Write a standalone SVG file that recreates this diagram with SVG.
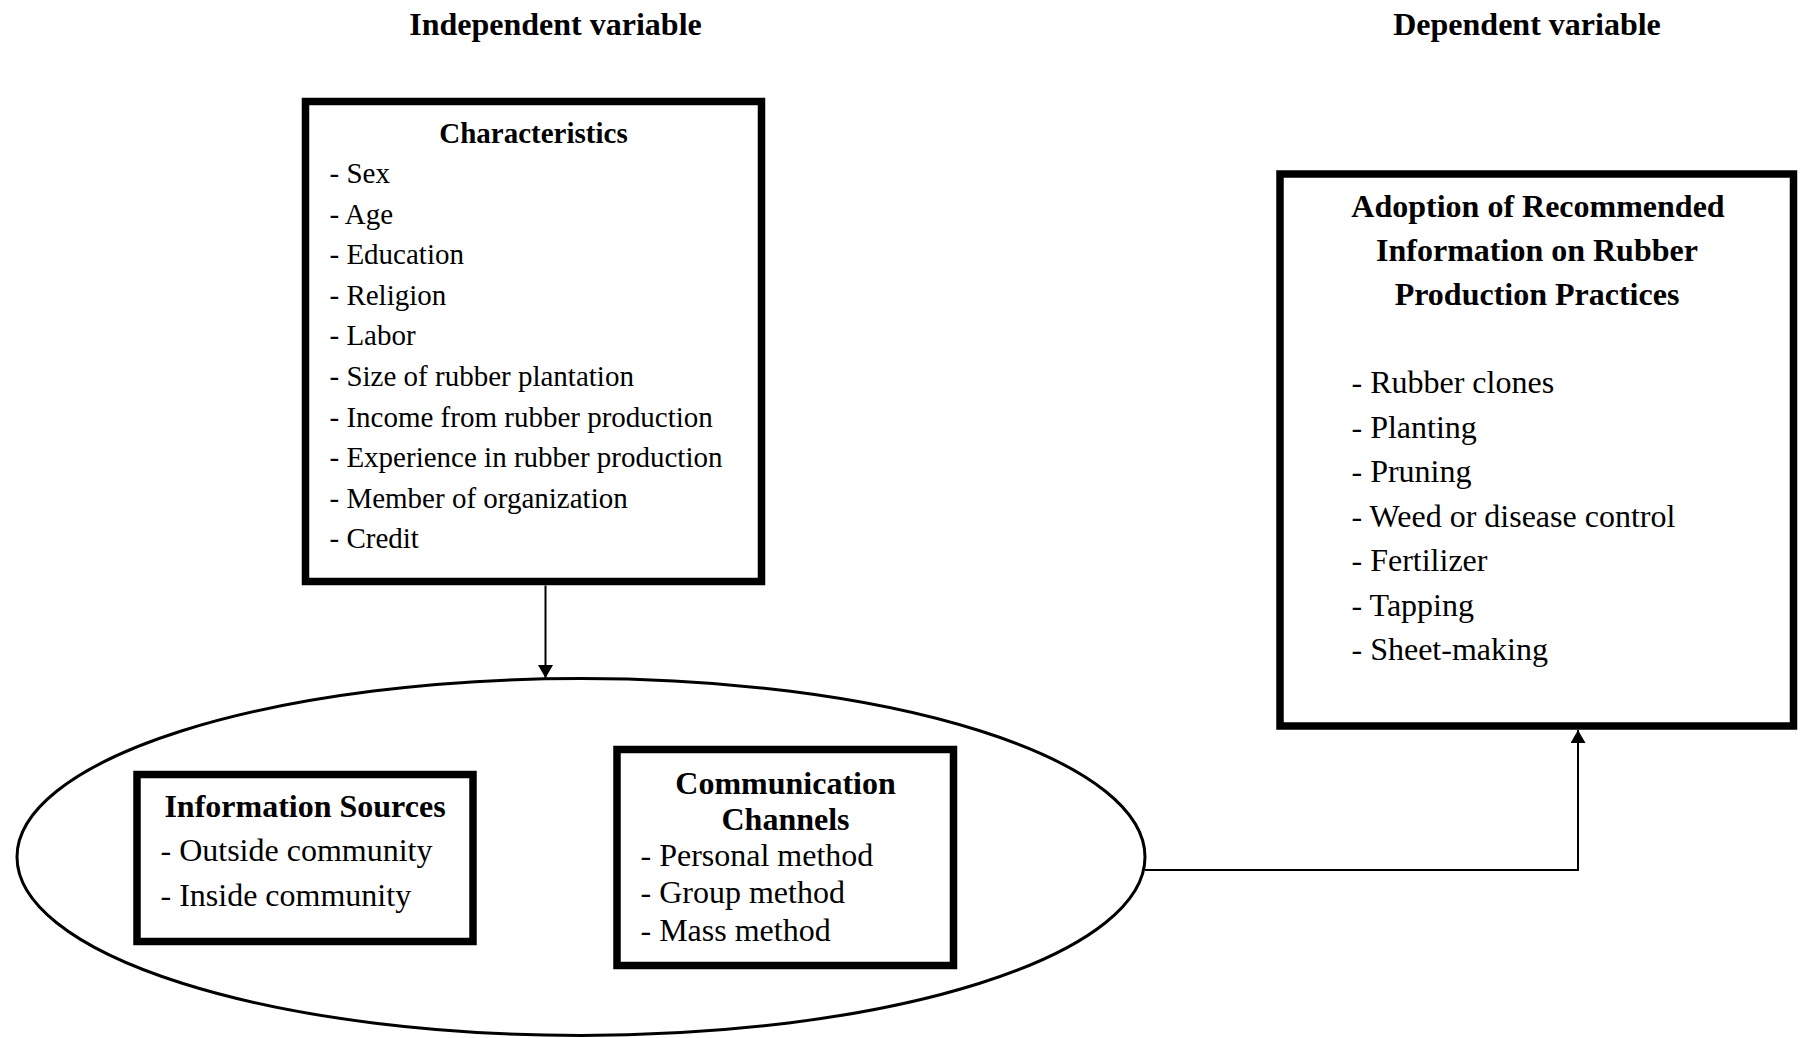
<svg xmlns="http://www.w3.org/2000/svg" width="1809" height="1038" viewBox="0 0 1809 1038">
<style>
text{font-family:"Liberation Serif","Times New Roman",serif;fill:#000}
.h{font-weight:bold;font-size:32px;text-anchor:middle}
.t{font-size:32px}
.s{font-size:29px}
.box{fill:#fff;stroke:#000;stroke-width:7.5}
.conn{fill:none;stroke:#000;stroke-width:2}
</style>
<defs>
<marker id="arr" viewBox="0 0 13 15" refX="13" refY="7.5" markerWidth="13" markerHeight="15" markerUnits="userSpaceOnUse" orient="auto">
<path d="M0,0 L13,7.5 L0,15 Z" fill="#000"/>
</marker>
</defs>
<rect width="1809" height="1038" fill="#fff"/>
<text class="h" x="555.5" y="35">Independent variable</text>
<text class="h" x="1527" y="35">Dependent variable</text>

<g id="group-ellipse">
<ellipse cx="581" cy="857" rx="564" ry="178.5" fill="#fff" stroke="#000" stroke-width="3"/>
</g>

<g id="characteristics">
<rect class="box" x="305.5" y="101.5" width="456" height="480"/>
<text class="h" x="533.5" y="143" style="font-size:29px">Characteristics</text>
<text class="s" x="329.5" y="183">- Sex</text>
<text class="s" x="329.5" y="223.6">- Age</text>
<text class="s" x="329.5" y="264.2">- Education</text>
<text class="s" x="329.5" y="304.8">- Religion</text>
<text class="s" x="329.5" y="345.4">- Labor</text>
<text class="s" x="329.5" y="386">- Size of rubber plantation</text>
<text class="s" x="329.5" y="426.6">- Income from rubber production</text>
<text class="s" x="329.5" y="467.2">- Experience in rubber production</text>
<text class="s" x="329.5" y="507.8">- Member of organization</text>
<text class="s" x="329.5" y="548.4">- Credit</text>
</g>

<g id="information-sources">
<rect class="box" x="137" y="774.5" width="336" height="167"/>
<text class="h" x="305" y="816.5">Information Sources</text>
<text class="t" x="160.5" y="860.5">- Outside community</text>
<text class="t" x="160.5" y="905.5">- Inside community</text>
</g>

<g id="communication-channels">
<rect class="box" x="617" y="749.5" width="336.5" height="216"/>
<text class="h" x="785.5" y="793.5">Communication</text>
<text class="h" x="785.5" y="830">Channels</text>
<text class="t" x="640.5" y="865.5">- Personal method</text>
<text class="t" x="640.5" y="903">- Group method</text>
<text class="t" x="640.5" y="940.5">- Mass method</text>
</g>

<g id="adoption">
<rect class="box" x="1280" y="174" width="513.5" height="552"/>
<text class="h" x="1538" y="217">Adoption of Recommended</text>
<text class="h" x="1537" y="261">Information on Rubber</text>
<text class="h" x="1537" y="305">Production Practices</text>
<text class="t" x="1351.5" y="393">- Rubber clones</text>
<text class="t" x="1351.5" y="437.5">- Planting</text>
<text class="t" x="1351.5" y="482">- Pruning</text>
<text class="t" x="1351.5" y="526.5">- Weed or disease control</text>
<text class="t" x="1351.5" y="571">- Fertilizer</text>
<text class="t" x="1351.5" y="615.5">- Tapping</text>
<text class="t" x="1351.5" y="660">- Sheet-making</text>
</g>

<g id="connectors">
<path class="conn" d="M545.5,585.5 L545.5,678" marker-end="url(#arr)"/>
<path class="conn" d="M1145,870 L1578,870 L1578,730" marker-end="url(#arr)"/>
</g>
</svg>
